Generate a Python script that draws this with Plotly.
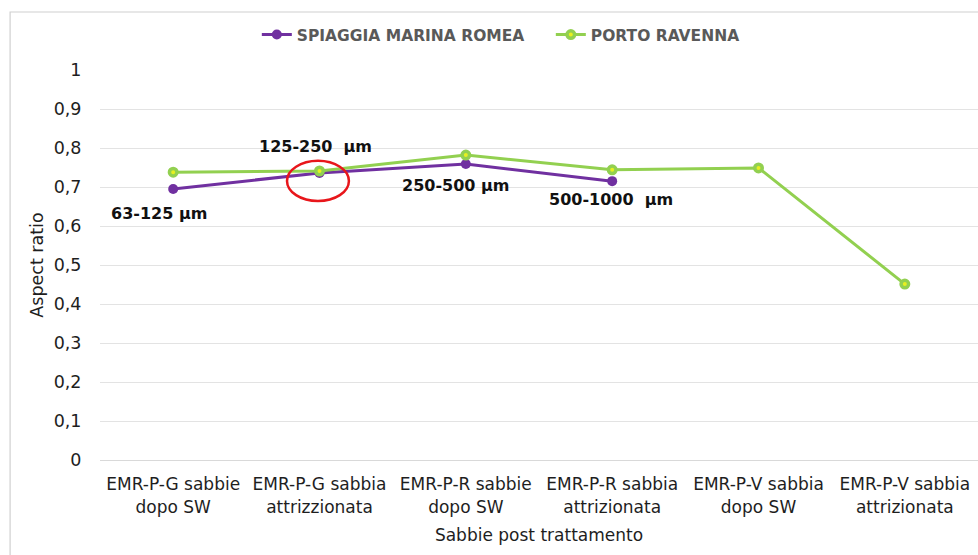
import plotly.graph_objects as go

# Categories (two-line tick labels)
categories = [
    "EMR-P-G sabbie<br>dopo SW",
    "EMR-P-G sabbia<br>attrizzionata",
    "EMR-P-R sabbie<br>dopo SW",
    "EMR-P-R sabbia<br>attrizionata",
    "EMR-P-V sabbia<br>dopo SW",
    "EMR-P-V sabbia<br>attrizionata",
]

# Aspect ratio values per series
marina_romea = [0.695, 0.736, 0.759, 0.715]
porto_ravenna = [0.738, 0.741, 0.782, 0.744, 0.749, 0.451]

# Grain-size labels: (text, category position, y value)
size_labels = ["63-125 µm", "125-250  µm", "250-500 µm", "500-1000  µm"]
size_label_x = [-0.1, 0.97, 1.93, 2.99]
size_label_y = [0.633, 0.803, 0.705, 0.669]

y_ticks = [0, 0.1, 0.2, 0.3, 0.4, 0.5, 0.6, 0.7, 0.8, 0.9, 1]
y_tick_text = ["0", "0,1", "0,2", "0,3", "0,4", "0,5", "0,6", "0,7", "0,8", "0,9", "1"]

PURPLE = "#7030A0"
GREEN = "#92D050"
FONT = "DejaVu Sans"
TEXT = "#1E1E1E"

x_idx = list(range(len(categories)))

fig = go.Figure()
fig.add_trace(go.Scatter(
    x=x_idx[:len(marina_romea)], y=marina_romea, name="SPIAGGIA MARINA ROMEA",
    mode="lines+markers",
    line=dict(color=PURPLE, width=3),
    marker=dict(color=PURPLE, size=10),
))
fig.add_trace(go.Scatter(
    x=x_idx, y=porto_ravenna, name="PORTO RAVENNA",
    mode="lines+markers",
    line=dict(color=GREEN, width=3),
    marker=dict(color="#E8F020", size=7.5, line=dict(color=GREEN, width=3.5)),
))

for txt, xv, yv in zip(size_labels, size_label_x, size_label_y):
    fig.add_annotation(
        x=xv, y=yv, xref="x", yref="y", text=txt, showarrow=False,
        font=dict(family=FONT, size=16, color="#111111", weight="bold"),
    )

# Highlight ring around the 125-250 µm point
fig.add_shape(
    type="circle", xref="x", yref="y",
    x0=0.778, x1=1.201, y0=0.664, y1=0.767,
    line=dict(color="#E8161B", width=2.5),
)

# Outer chart frame
fig.add_shape(
    type="rect", xref="paper", yref="paper",
    x0=-90 / 879, x1=1.2, y0=-0.3, y1=1 + 58 / 390,
    line=dict(color="#D0D0D0", width=1.2),
    layer="below",
)

fig.update_layout(
    width=978, height=555,
    margin=dict(l=100, r=0, t=70, b=95),
    paper_bgcolor="white", plot_bgcolor="white",
    font=dict(family=FONT, size=16, color=TEXT),
    showlegend=True,
    legend=dict(
        orientation="h", x=(257 - 100) / 879, xanchor="left",
        y=1 + 35 / 390, yanchor="middle",
        font=dict(family=FONT, size=15.5, color="#595959", weight="bold"),
        itemwidth=30, entrywidth=249, entrywidthmode="pixels",
    ),
    xaxis=dict(
        tickmode="array", tickvals=x_idx, ticktext=categories,
        range=[-0.5, 5.5], showgrid=False, zeroline=False,
        showline=True, linecolor="#D9D9D9", linewidth=1,
        ticks="outside", ticklen=9, tickcolor="rgba(0,0,0,0)",
        tickfont=dict(size=17, color=TEXT),
        title=dict(text="Sabbie post trattamento", font=dict(size=17, color=TEXT), standoff=13),
    ),
    yaxis=dict(
        range=[0, 1], tickvals=y_ticks, ticktext=y_tick_text,
        showgrid=True, gridcolor="#E3E3E3", gridwidth=1, zeroline=False,
        ticks="outside", ticklen=14, tickcolor="rgba(0,0,0,0)",
        tickfont=dict(size=17.5, color=TEXT),
        title=dict(text="Aspect ratio", font=dict(size=17.5, color=TEXT), standoff=5),
    ),
)

fig.write_html("out.html")
